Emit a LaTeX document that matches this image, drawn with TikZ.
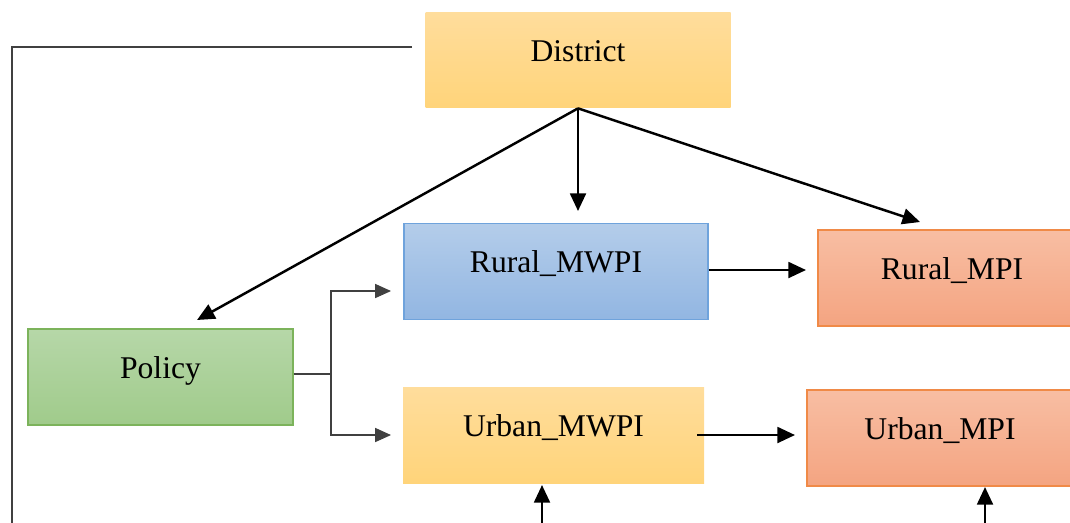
\documentclass[tikz,border=0pt]{standalone}
\usepackage{fontspec}
\setmainfont{Liberation Serif}
\usetikzlibrary{arrows.meta}
\definecolor{ylwTop}{HTML}{FFDD9C}
\definecolor{ylwBot}{HTML}{FFD47A}
\definecolor{bluTop}{HTML}{B4CDEA}
\definecolor{bluBot}{HTML}{92B6E2}
\definecolor{bluLine}{HTML}{6FA3DC}
\definecolor{orgTop}{HTML}{F8BEA3}
\definecolor{orgBot}{HTML}{F4A481}
\definecolor{orgLine}{HTML}{F08A47}
\definecolor{grnTop}{HTML}{B6D7A8}
\definecolor{grnBot}{HTML}{A0CB8B}
\definecolor{grnLine}{HTML}{7CB35B}
\definecolor{thinLine}{HTML}{404040}
\tikzset{
  box/.style={rectangle, inner xsep=0pt, inner ysep=0pt,
    text height=0.98cm, text depth=0.94cm,
    font=\fontsize{18}{20}\selectfont},
  yellowbox/.style={box, top color=ylwTop, bottom color=ylwBot, draw=none},
  bluebox/.style={box, top color=bluTop, bottom color=bluBot, draw=bluLine, line width=0.6pt},
  orangebox/.style={box, top color=orgTop, bottom color=orgBot, draw=orgLine, line width=0.6pt},
  greenbox/.style={box, top color=grnTop, bottom color=grnBot, draw=grnLine, line width=0.6pt},
  arr/.style={line width=1.4pt, -{Triangle[length=10pt,width=9pt]}},
  thin/.style={line width=0.6pt, draw=thinLine},
  thinarr/.style={thin, -{Triangle[length=9pt,width=8pt]}},
}
\begin{document}
\begin{tikzpicture}[x=0.02cm, y=-0.02cm]
\useasboundingbox (0,0) rectangle (1070,522);
\clip (0,0) rectangle (1070,522);

% boxes
\node[yellowbox, minimum width=305*0.02cm] (district) at (578,60) {District};
\node[bluebox, minimum width=304*0.02cm] (rmwpi) at (556,271.5) {Rural\_MWPI};
\node[orangebox, minimum width=268*0.02cm] (rmpi) at (952,278) {Rural\_MPI};
\node[greenbox, minimum width=265*0.02cm] (policy) at (160.5,377) {Policy};
\node[yellowbox, minimum width=301*0.02cm] (umwpi) at (553.5,435) {Urban\_MWPI};
\node[orangebox, minimum width=266*0.02cm] (umpi) at (940,438) {Urban\_MPI};

% helper points for open connector ends
\coordinate (polTip) at (197,320);
\coordinate (midTip) at (578,211);
\coordinate (rmpiTip) at (920,222);
\coordinate (rArrowEnd) at (806,270);
\coordinate (uArrowStart) at (697,435);
\coordinate (uArrowEnd) at (795,435);
\coordinate (split) at (331,374);
\coordinate (rTurn) at (331,291);
\coordinate (uTurn) at (331,435);
\coordinate (rIn) at (391,291);
\coordinate (uIn) at (391,435);
\coordinate (leftStart) at (412,47);
\coordinate (leftCorner) at (12,47);
\coordinate (leftEnd) at (12,530);
\coordinate (umwpiFoot) at (542,530);
\coordinate (umwpiUp) at (542,485);
\coordinate (umpiFoot) at (985,530);
\coordinate (umpiUp) at (985,487);

% connectors from the district
\draw[arr] (district.south) -- (polTip);
\draw[arr] (district.south) -- (district.south |- midTip);
\draw[arr] (district.south) -- (rmpiTip);

% MWPI to MPI
\draw[arr] (rmwpi.east |- rArrowEnd) -- (rArrowEnd);
\draw[arr] (uArrowStart) -- (uArrowEnd);

% policy fork
\draw[thin] (policy.east |- split) -- (split);
\draw[thinarr] (split) -- (rTurn) -- (rIn);
\draw[thinarr] (split) -- (uTurn) -- (uIn);

% feedback line on the left
\draw[thin] (leftStart) -- (leftCorner) -- (leftEnd);

% inputs from below
\draw[arr] (umwpiFoot) -- (umwpiUp);
\draw[arr] (umpiFoot) -- (umpiUp);
\end{tikzpicture}
\end{document}
